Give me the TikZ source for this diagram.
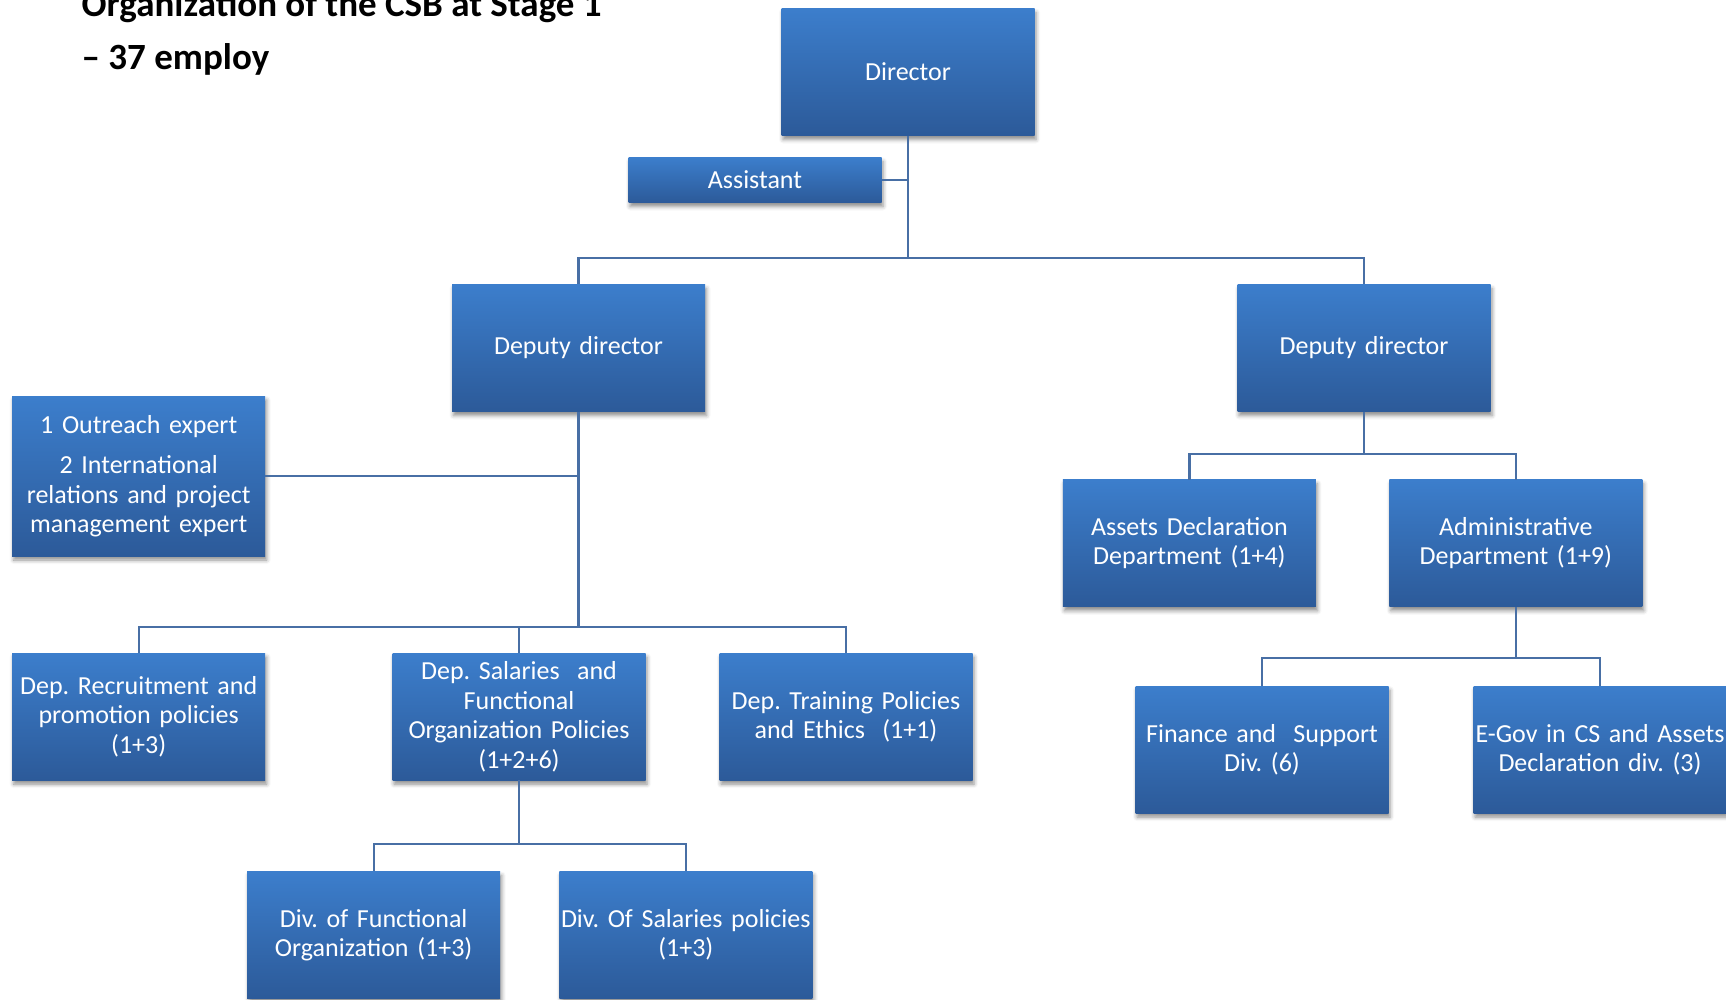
\documentclass[tikz,border=0pt]{standalone}
\usepackage{fontspec}
\setmainfont{Carlito}
\usepackage{xcolor}
\usetikzlibrary{shadows.blur}
\definecolor{boxtop}{RGB}{60,126,204}
\definecolor{boxbot}{RGB}{44,90,153}
\definecolor{linkblue}{RGB}{72,111,165}
\frenchspacing

\begin{document}
\begin{tikzpicture}[x=1pt,y=-1pt,
  box/.style={shape=rectangle,top color=boxtop,bottom color=boxbot,text=white,
    minimum width=253pt,minimum height=127pt,text width=251pt,align=center,inner xsep=1pt,inner ysep=2pt,
    font=\fontsize{26}{29.5}\selectfont,
    blur shadow={shadow xshift=1.5pt,shadow yshift=-4pt,shadow blur radius=4pt,shadow opacity=45}},
  link/.style={linkblue,line width=2.2pt}]
  \useasboundingbox (0,0) rectangle (1726,999);
  \clip (0,0) rectangle (1726,999);
  \node[anchor=base west,align=left,inner sep=0pt,font=\bfseries\fontsize{37}{52.5}\selectfont] (title) at (81.5,69) {Organization of the CSB at Stage 1\\ – 37 employ};
  \node[box] (dir) at (908,72) {Director};
  \node[box,minimum height=45pt] (asst) at (755,180) {Assistant};
  \node[box] (depL) at (578.5,348) {Deputy director};
  \node[box] (depR) at (1364,348) {Deputy director};
  \node[box,minimum height=160pt] (outr) at (138.7,476) {1 Outreach expert\\[11pt] 2 International\\ relations and project\\ management expert};
  \node[box] (rec) at (138.7,716.6) {Dep. Recruitment and\\ promotion policies\\ (1+3)};
  \node[box] (sal) at (519,716.6) {Dep. Salaries\ \ and\\ Functional\\ Organization Policies\\ (1+2+6)};
  \node[box] (trn) at (846,716.6) {Dep. Training Policies\\ and Ethics\ \ (1+1)};
  \node[box] (dfun) at (373.7,935) {Div. of Functional\\ Organization (1+3)};
  \node[box] (dsal) at (685.8,935) {Div. Of Salaries policies\\ (1+3)};
  \node[box] (asd) at (1189.4,543.3) {Assets Declaration\\ Department (1+4)};
  \node[box] (adm) at (1515.8,543.3) {Administrative\\ Department (1+9)};
  \node[box] (fin) at (1262,749.6) {Finance and\ \ Support\\ Div. (6)};
  \node[box] (egov) at (1600,749.6) {E-Gov in CS and Assets\\ Declaration div. (3)};
  \draw[link] (dir.south) -- ++(0,122) -| (depL.north);
  \draw[link] (dir.south) -- ++(0,122) -| (depR.north);
  \draw[link] (asst.east) -- (asst.east -| dir.south);
  \draw[link] (outr.east) -- (outr.east -| depL.south);
  \foreach \n in {rec,sal,trn} \draw[link] (depL.south) -- ++(0,215) -| (\n.north);
  \foreach \n in {dfun,dsal} \draw[link] (sal.south) -- ++(0,64) -| (\n.north);
  \foreach \n in {asd,adm} \draw[link] (depR.south) -- ++(0,42) -| (\n.north);
  \foreach \n in {fin,egov} \draw[link] (adm.south) -- ++(0,51) -| (\n.north);
\end{tikzpicture}
\end{document}
